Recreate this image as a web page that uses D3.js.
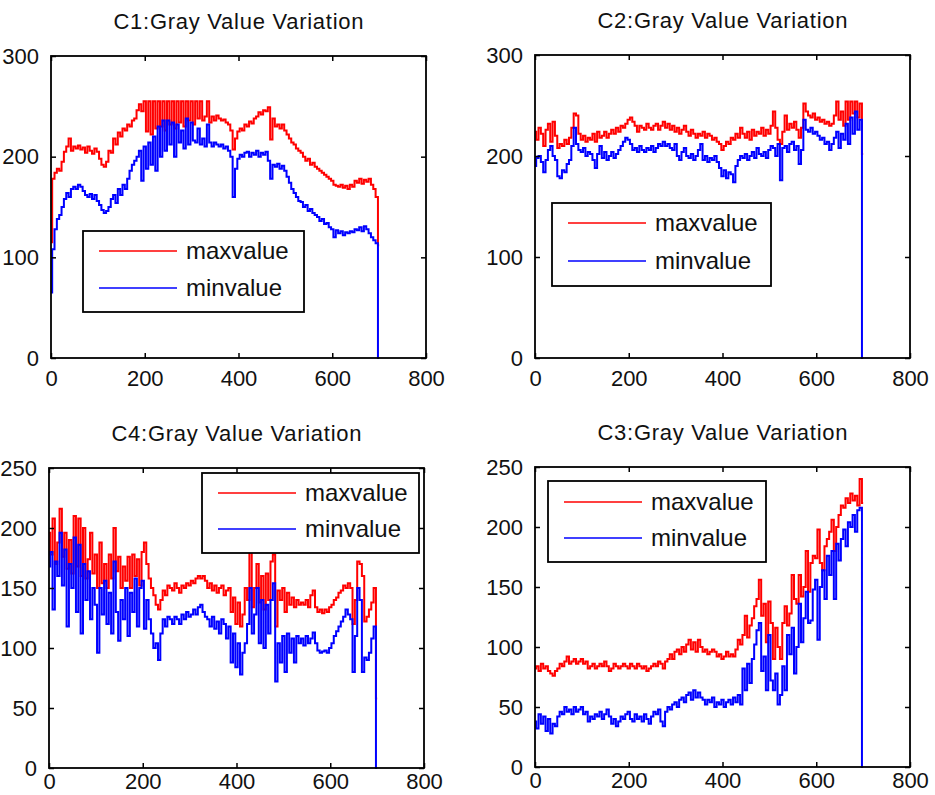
<!DOCTYPE html>
<html>
<head>
<meta charset="utf-8">
<script src="https://cdn.jsdelivr.net/npm/d3@7"></script>
<style>
  body { margin: 0; background: #fff; }
  svg { display: block; font-family: "Liberation Sans", Arial, sans-serif; }
</style>
</head>
<body>
<div id="chart"></div>
<script>
const width = 935;
const height = 795;

// sample columns (every 5th column of the 700 px strip)
const sampleX = d3.range(0, 701, 5);

// C1
const c1Max = [
  115,178,184,188,186,195,205,210,218,206,
  210,208,211,207,209,204,210,206,203,208,
  205,198,192,190,195,206,204,218,212,224,
  220,228,226,232,230,236,238,246,252,245,
  255,225,255,222,255,228,255,230,255,226,
  255,232,255,228,255,234,255,230,255,236,
  255,232,255,238,255,236,240,255,234,240,
  236,241,238,236,237,234,232,226,207,218,
  225,228,226,232,230,235,233,238,240,244,
  242,246,245,249,217,238,230,232,228,232,
  226,222,218,214,212,208,206,204,200,196,
  198,192,194,190,188,186,184,182,180,178,
  176,172,171,170,172,169,171,168,172,170,
  176,174,178,173,177,175,178,172,168,160,
  112];
const c1Min = [
  65,108,128,138,142,150,158,164,160,168,
  170,168,172,170,166,162,160,163,158,162,
  156,152,147,144,146,150,158,162,154,168,
  162,172,168,178,186,192,196,200,206,176,
  210,188,214,192,220,186,230,200,236,206,
  236,212,234,200,232,214,226,208,238,212,
  234,216,214,228,212,218,210,232,214,210,
  214,212,210,212,208,210,206,200,160,188,
  198,202,200,204,205,200,204,202,206,200,
  204,202,205,196,178,192,190,193,188,191,
  186,180,174,168,164,160,156,155,150,152,
  146,148,144,142,140,136,138,133,134,130,
  128,120,127,124,126,122,125,124,126,125,
  128,127,130,126,131,128,124,120,117,114,
  0];

// C2
const c2Max = [
  224,216,228,222,210,226,232,214,234,220,
  208,212,210,216,212,218,228,242,240,222,
  216,220,214,218,216,222,214,224,218,220,
  224,218,222,226,222,228,224,230,228,232,
  236,238,234,230,224,230,228,226,232,228,
  226,230,232,226,230,234,228,232,226,230,
  224,228,222,226,230,224,220,226,222,218,
  222,220,224,218,222,220,216,218,214,212,
  206,210,214,212,218,216,222,218,228,222,
  218,224,216,226,220,224,222,228,220,226,
  222,230,244,228,216,212,224,240,226,232,
  228,234,226,218,228,252,244,240,238,242,
  236,238,234,236,232,234,230,232,240,254,
  236,244,230,254,236,254,242,254,238,252,
  202];
const c2Min = [
  190,198,200,194,184,196,206,210,200,196,
  180,178,186,184,192,196,210,228,212,206,
  204,208,200,204,202,196,188,202,210,198,
  204,196,200,204,198,202,206,210,214,218,
  216,212,206,208,204,210,206,204,208,206,
  210,204,208,212,210,214,210,212,208,206,
  212,200,196,204,208,200,198,202,196,200,
  206,212,196,200,194,198,196,200,194,188,
  180,186,178,184,182,174,190,196,200,198,
  202,196,200,204,198,208,202,200,204,198,
  206,210,208,200,212,176,208,210,204,212,
  214,206,210,192,206,236,226,224,228,222,
  224,220,216,218,212,214,206,212,218,224,
  208,222,216,232,212,238,222,244,226,236,
  0];

// C4
const c4Max = [
  196,178,208,170,188,216,176,196,166,190,
  162,210,168,208,160,200,158,174,196,162,
  178,150,188,154,170,150,178,158,200,164,
  176,150,168,156,176,150,178,160,174,152,
  180,188,170,158,150,144,136,132,140,148,
  144,152,150,148,154,150,146,152,150,154,
  152,156,154,158,160,158,160,156,150,154,
  148,152,146,150,152,144,148,150,130,142,
  120,138,118,128,150,140,180,134,150,170,
  138,160,132,162,140,172,178,118,148,140,
  150,130,146,136,142,134,140,136,138,136,
  140,134,144,148,134,130,132,129,132,130,
  134,136,140,142,146,148,152,150,154,150,
  120,140,172,170,160,122,126,132,138,150,
  58];
const c4Min = [
  168,180,132,172,160,196,152,182,118,170,
  150,192,130,186,112,170,140,164,124,150,
  136,96,150,128,156,120,146,112,172,130,
  106,140,124,150,110,146,130,158,118,150,
  156,116,140,124,112,100,104,90,112,124,
  118,126,124,120,126,124,120,128,124,130,
  126,128,132,128,134,136,130,126,124,118,
  126,116,122,112,124,120,108,118,88,112,
  84,104,78,96,104,120,150,112,128,150,
  104,140,100,136,112,140,154,72,104,88,
  110,80,112,96,108,88,110,104,108,102,
  110,104,108,113,104,98,96,97,98,96,
  100,104,110,114,118,122,126,132,128,124,
  80,110,150,140,80,92,90,96,108,118,
  0];

// C3
const c3Max = [
  82,84,80,86,82,84,80,78,76,80,
  82,86,84,88,92,86,88,90,86,88,
  90,86,88,82,84,86,82,84,86,84,
  88,84,80,82,86,84,82,84,86,84,
  82,86,84,82,86,84,82,84,80,82,
  84,86,84,88,86,82,88,90,94,90,
  96,98,94,100,96,102,106,98,104,96,
  106,100,96,98,94,96,98,96,92,94,
  90,92,96,92,94,92,98,106,102,110,
  126,108,118,124,134,140,156,126,136,104,
  138,120,90,116,100,90,120,134,118,128,
  160,140,136,160,142,150,180,146,170,176,
  174,198,170,164,184,190,196,206,180,200,
  210,218,216,224,220,228,222,226,218,240,
  220];
const c3Min = [
  38,32,44,36,42,30,40,28,36,34,
  42,46,44,50,46,48,44,50,46,48,
  50,44,46,38,42,40,44,42,46,40,
  44,48,42,36,40,34,38,42,40,44,
  46,40,38,44,40,42,38,44,40,36,
  42,46,44,48,38,34,46,50,48,52,
  54,50,56,58,54,60,62,56,64,58,
  62,58,56,52,56,54,58,50,54,52,
  56,50,54,56,52,58,54,60,52,82,
  64,86,70,90,102,114,120,80,92,64,
  110,72,64,78,52,60,84,64,110,94,
  116,78,100,136,104,124,146,120,122,148,
  156,106,150,164,140,176,160,180,140,186,
  172,190,198,184,204,200,210,196,214,216,
  0];

const xTicks = [0, 200, 400, 600, 800];
const yTicks300 = [0, 100, 200, 300];
const yTicks250 = [0, 50, 100, 150, 200, 250];
const seriesNames = ["maxvalue", "minvalue"];
const seriesColors = ["#ff0000", "#0000ff"];

const panels = [
  { title: "C1:Gray Value Variation", maxv: c1Max, minv: c1Min, yMax: 300, yTicks: yTicks300,
    box: [51, 56, 426, 358], legend: [83, 231, 304, 312], rows: [251, 288], xPad: 12 },
  { title: "C2:Gray Value Variation", maxv: c2Max, minv: c2Min, yMax: 300, yTicks: yTicks300,
    box: [535, 55, 910, 358], legend: [552, 203, 771, 286], rows: [223, 261], xPad: 12 },
  { title: "C4:Gray Value Variation", maxv: c4Max, minv: c4Min, yMax: 250, yTicks: yTicks250,
    box: [49, 468, 424, 768], legend: [202, 473, 419, 553], rows: [493, 529], xPad: 5 },
  { title: "C3:Gray Value Variation", maxv: c3Max, minv: c3Min, yMax: 250, yTicks: yTicks250,
    box: [535, 467, 910, 767], legend: [548, 481, 766, 562], rows: [502, 538], xPad: 5 }
];

const svg = d3.select("#chart").append("svg")
  .attr("width", width)
  .attr("height", height);

panels.forEach(p => {
  const [x0, y0, x1, y1] = p.box;
  const x = d3.scaleLinear().domain([0, 800]).range([x0, x1]);
  const y = d3.scaleLinear().domain([0, p.yMax]).range([y1, y0]);
  const g = svg.append("g");

  // title
  g.append("text")
    .attr("x", (x0 + x1) / 2)
    .attr("y", y0 - 27)
    .attr("text-anchor", "middle")
    .attr("textLength", 250)
    .attr("lengthAdjust", "spacing")
    .style("font-size", "22px")
    .attr("fill", "#111")
    .text(p.title);

  // data lines (stepped like the pixel columns), max first so min sits on top
  const line = d3.line()
    .curve(d3.curveStep)
    .x((d, i) => x(sampleX[i]))
    .y(d => y(d));
  [p.maxv, p.minv].forEach((vals, k) => {
    g.append("path")
      .datum(vals)
      .attr("fill", "none")
      .attr("stroke", seriesColors[k])
      .attr("stroke-width", 2)
      .attr("d", line);
  });

  // axes, MATLAB style inward ticks on all four sides
  const axes = [
    d3.axisBottom(x).tickValues(xTicks).tickSize(-5).tickPadding(p.xPad),
    d3.axisLeft(y).tickValues(p.yTicks).tickSize(-5).tickPadding(12),
    d3.axisTop(x).tickValues(xTicks).tickSize(-5).tickFormat(""),
    d3.axisRight(y).tickValues(p.yTicks).tickSize(-5).tickFormat("")
  ];
  const shifts = [[0, y1], [x0, 0], [0, y0], [x1, 0]];
  axes.forEach((ax, i) => {
    const a = g.append("g")
      .attr("transform", `translate(${shifts[i][0]},${shifts[i][1]})`)
      .call(ax);
    a.select(".domain").remove();
    a.selectAll("line").attr("stroke", "#000").attr("stroke-width", 1.5);
    a.selectAll("text")
      .attr("fill", "#111")
      .style("font-size", "22px")
      .style("font-family", "'Liberation Sans', Arial, sans-serif");
  });

  g.append("rect")
    .attr("x", x0).attr("y", y0)
    .attr("width", x1 - x0).attr("height", y1 - y0)
    .attr("fill", "none")
    .attr("stroke", "#000")
    .attr("stroke-width", 1.8);

  // legend
  const [lx0, ly0, lx1, ly1] = p.legend;
  const leg = g.append("g");
  leg.append("rect")
    .attr("x", lx0).attr("y", ly0)
    .attr("width", lx1 - lx0).attr("height", ly1 - ly0)
    .attr("fill", "#fff")
    .attr("stroke", "#000")
    .attr("stroke-width", 1.8);
  seriesNames.forEach((name, k) => {
    leg.append("line")
      .attr("x1", lx0 + 16).attr("x2", lx0 + 94)
      .attr("y1", p.rows[k]).attr("y2", p.rows[k])
      .attr("stroke", seriesColors[k])
      .attr("stroke-width", 1.6);
    leg.append("text")
      .attr("x", lx0 + 103)
      .attr("y", p.rows[k])
      .attr("dy", "0.33em")
      .style("font-size", "24px")
      .attr("fill", "#111")
      .text(name);
  });
});
</script>
</body>
</html>
